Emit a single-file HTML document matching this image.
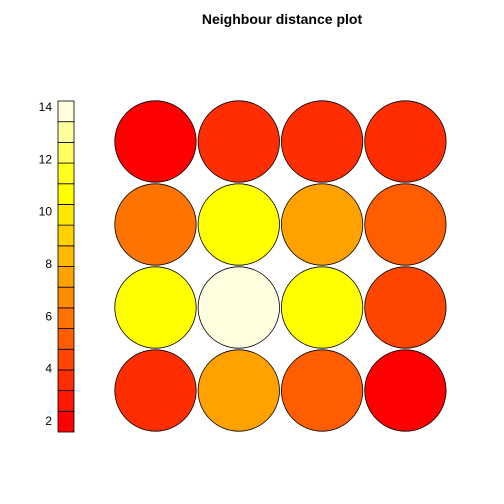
<!DOCTYPE html>
<html><head><meta charset="utf-8"><style>body{margin:0;background:#fff}svg{display:block}</style></head>
<body>
<svg id="c" width="504" height="504" xmlns="http://www.w3.org/2000/svg" font-family="Liberation Sans, sans-serif">
<text x="282" y="24" text-anchor="middle" font-size="14" font-weight="bold">Neighbour distance plot</text>
<g id="legend"></g>
<g id="grid"></g>
</svg>
<script>
// node distance values, row by row from top
const row1 = [1.9, 3.6, 3.6, 3.6];
const row2 = [5.9, 10.7, 7.5, 5.1];
const row3 = [10.7, 13.9, 10.7, 4.4];
const row4 = [3.6, 7.5, 5.1, 1.58];
const legendTicks = [2, 4, 6, 8, 10, 12, 14];
const vmin = 1.58, vmax = 14.23, nCol = 16;

const NS = "http://www.w3.org/2000/svg";
function heat(n){
  const out=[]; const j=n/4, i=n-j;
  for(let k=0;k<i;k++){ out.push(hsv(k/(i-1)*(1/6),1,1)); }
  const s0=1-1/(2*j), s1=1/(2*j);
  for(let k=0;k<j;k++){ const s=s0 + k*(s1-s0)/(j-1); out.push(hsv(1/6,s,1)); }
  return out;
}
function hsv(h,s,v){
  const f=(n)=>{const k=(n+h*6)%6;return v-v*s*Math.max(0,Math.min(k,4-k,1));};
  const c=x=>Math.round(x*255);
  return `rgb(${c(f(5))},${c(f(3))},${c(f(1))})`;
}
const cols = heat(nCol);
const yL = v => 432 - (v - vmin) / (vmax - vmin) * 331;
const colorOf = v => cols[Math.min(nCol-1, Math.max(0, Math.floor((v - vmin) / (vmax - vmin) * nCol)))];

const lg = document.getElementById('legend');
for (let k = 0; k < nCol; k++) {
  const v0 = vmin + k * (vmax - vmin) / nCol, v1 = vmin + (k + 1) * (vmax - vmin) / nCol;
  const r = document.createElementNS(NS, 'rect');
  
  
  r.setAttribute('x', 58); r.setAttribute('width', 16);
  r.setAttribute('y', yL(v1)); r.setAttribute('height', yL(v0) - yL(v1));
  r.setAttribute('fill', cols[k]); r.setAttribute('stroke', '#000'); r.setAttribute('stroke-width', '0.8');
  lg.appendChild(r);
}
legendTicks.forEach(t => {
  const tx = document.createElementNS(NS, 'text');
  
  
  tx.setAttribute('x', 52); tx.setAttribute('y', yL(t) + 4);
  tx.setAttribute('text-anchor', 'end'); tx.setAttribute('font-size', '12');
  tx.textContent = t;
  lg.appendChild(tx);
});

const rows = [row1, row2, row3, row4];
const g = document.getElementById('grid');
const cx = c => 155.5 + c * 83.3, cy = r => 141.5 + r * 83;
rows.forEach((row, ri) => row.forEach((v, ci) => {
  const c = document.createElementNS(NS, 'circle');
  
  
  c.setAttribute('cx', cx(ci)); c.setAttribute('cy', cy(ri)); c.setAttribute('r', 40.7);
  c.setAttribute('fill', colorOf(v)); c.setAttribute('stroke', '#000'); c.setAttribute('stroke-width', '0.8');
  g.appendChild(c);
}));
</script>
</body></html>
